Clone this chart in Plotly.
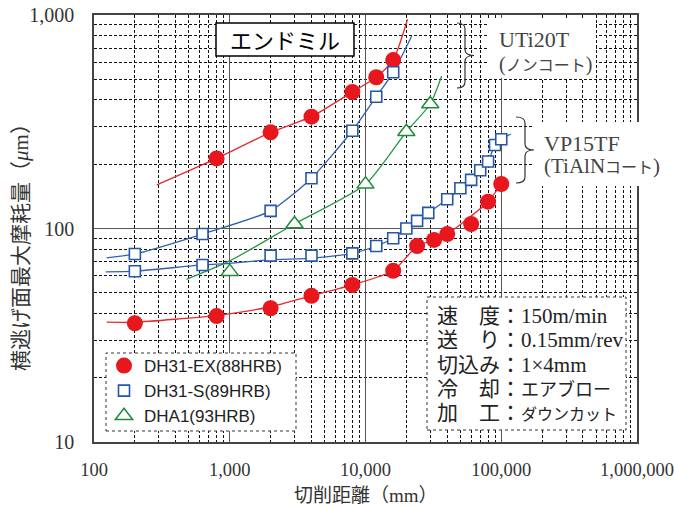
import plotly.graph_objects as go

# ---------------- data ----------------
x_ticks = [100, 1000, 10000, 100000, 1000000]
x_tick_labels = ["100", "1,000", "10,000", "100,000", "1,000,000"]
y_ticks = [10, 100, 1000]
y_tick_labels = ["10", "100", "1,000"]

series_names = ["DH31-EX(88HRB)", "DH31-S(89HRB)", "DHA1(93HRB)"]

# UTi20T (non-coated)
ex_u_x = [800, 2000, 4000, 8000, 12000, 16000]
ex_u_y = [213, 282, 334, 436, 511, 615]
s_u_x = [200, 630, 2000, 4000, 8000, 12000, 16000]
s_u_y = [76, 94.2, 121, 172, 287, 414, 539]
a1_u_x = [3000, 10000, 20000, 30000]
a1_u_y = [105, 161, 284, 383]

# VP15TF (TiAlN coated)
ex_v_x = [200, 800, 2000, 4000, 8000, 16000, 24000, 32000, 40000, 60000, 80000, 100000]
ex_v_y = [36, 38.9, 42.3, 48.4, 54.4, 63.4, 82.8, 88.4, 94.2, 105, 133.5, 161.6]
s_v_x = [200, 630, 2000, 4000, 8000, 12000, 16000, 20000, 24000, 29000,
         40000, 50000, 60000, 70000, 80000, 90000, 100000]
s_v_y = [63.1, 67.5, 74.6, 74.6, 76.5, 82.8, 90, 100, 108.6, 118.3,
         137, 154.3, 168.9, 187.4, 206, 246, 262]
a1_v_x = [1000]
a1_v_y = [62.8]

# trend curves
t_ex_u_x = [290, 800, 2000, 4000, 8000, 12000, 16000, 20400]
t_ex_u_y = [160, 213, 282, 334, 436, 511, 615, 955]
t_s_u_x = [124, 200, 630, 2000, 4000, 8000, 12000, 16000, 21900]
t_s_u_y = [72.9, 76, 94.2, 121, 172, 287, 414, 539, 798]
t_a1_u_x = [480, 1000, 3000, 10000, 20000, 30000, 36400]
t_a1_u_y = [57.8, 70.5, 105, 161, 284, 383, 518]
t_ex_v_x = [124, 200, 800, 2000, 4000, 8000, 16000, 24000, 32000, 40000, 80000, 100000]
t_ex_v_y = [36.4, 36.4, 39.2, 43, 48.4, 54.4, 63.4, 82.8, 88.4, 94.2, 133.5, 161.6]
t_s_v_x = [122, 200, 630, 1000, 2000, 4000, 8000, 12000, 16000, 20000, 24000, 29000,
           40000, 50000, 60000, 70000, 80000, 90000, 100000, 118000]
t_s_v_y = [62.6, 63.1, 67.5, 68.7, 71.5, 72.5, 76.5, 82.8, 90, 100, 108.6, 118.3,
           137, 154.3, 168.9, 187.4, 206, 246, 262, 277]

conditions = [
    ("速　度", "150m/min", None),
    ("送　り", "0.15mm/rev", None),
    ("切込み", "1×4mm", None),
    ("冷　却", "エアブロー", 18),
    ("加　工", "ダウンカット", 16),
]

# ---------------- styles ----------------
RED = "#e8161d"
RED_L = "#e8282c"
BLUE = "#2656a8"
BLUE_L = "#2e60b2"
GREEN = "#1f8a3a"
GREEN_L = "#2a9646"
SERIF = "Liberation Serif, Noto Sans CJK JP, serif"
SANS = "Liberation Sans, Noto Sans CJK JP, sans-serif"
CJK = "Noto Sans CJK JP, sans-serif"

W, H = 674, 509
L, R, T, B = 94, 37, 15, 67
PW, PH = W - L - R, H - T - B


def px(xp):
    return (xp - L) / PW


def py(yp):
    return (H - B - yp) / PH


fig = go.Figure()

# trend curves
for tx, ty, col in [(t_ex_u_x, t_ex_u_y, RED_L), (t_s_u_x, t_s_u_y, BLUE_L),
                    (t_a1_u_x, t_a1_u_y, GREEN_L), (t_ex_v_x, t_ex_v_y, RED_L),
                    (t_s_v_x, t_s_v_y, BLUE_L)]:
    fig.add_trace(go.Scatter(x=tx, y=ty, mode="lines", showlegend=False,
                             line=dict(color=col, width=1.3, shape="spline", smoothing=0.6),
                             hoverinfo="skip"))

red_m = dict(symbol="circle", size=16, color=RED, line=dict(width=0))
blue_m = dict(symbol="square", size=11, color="white", line=dict(color=BLUE, width=1.6))
green_m = dict(symbol="triangle-up", size=15, color="white", line=dict(color=GREEN, width=1.5))

fig.add_trace(go.Scatter(x=ex_u_x, y=ex_u_y, mode="markers", marker=red_m,
                         name=series_names[0], legendgroup="ex"))
fig.add_trace(go.Scatter(x=s_u_x, y=s_u_y, mode="markers", marker=blue_m,
                         name=series_names[1], legendgroup="s"))
fig.add_trace(go.Scatter(x=a1_u_x, y=a1_u_y, mode="markers", marker=green_m,
                         name=series_names[2], legendgroup="a1"))
fig.add_trace(go.Scatter(x=ex_v_x, y=ex_v_y, mode="markers", marker=red_m,
                         name=series_names[0], legendgroup="ex", showlegend=False))
fig.add_trace(go.Scatter(x=s_v_x, y=s_v_y, mode="markers", marker=blue_m,
                         name=series_names[1], legendgroup="s", showlegend=False))
fig.add_trace(go.Scatter(x=a1_v_x, y=a1_v_y, mode="markers", marker=green_m,
                         name=series_names[2], legendgroup="a1", showlegend=False))

minor_x = [m * 10 ** k for k in range(2, 6) for m in range(2, 10)]
minor_y = [m * 10 ** k for k in range(1, 3) for m in range(2, 10)]

axis_common = dict(
    type="log", showgrid=True, gridcolor="#555", gridwidth=1,
    showline=True, mirror=True, linecolor="#444", linewidth=1.5,
    ticks="", zeroline=False, automargin=False,
)
fig.update_xaxes(range=[2, 6], tickvals=x_ticks, ticktext=x_tick_labels,
                 ticklabelstandoff=10,
                 tickfont=dict(family=SERIF, size=18.5, color="#333"),
                 minor=dict(tickvals=minor_x, showgrid=True, gridcolor="#111",
                            griddash="3px,2px", gridwidth=1, ticks=""),
                 **axis_common)
fig.update_yaxes(range=[1, 3], tickvals=y_ticks, ticktext=y_tick_labels,
                 ticklabelstandoff=14,
                 tickfont=dict(family=SERIF, size=20, color="#333"),
                 minor=dict(tickvals=minor_y, showgrid=True, gridcolor="#111",
                            griddash="3px,2px", gridwidth=1, ticks=""),
                 **axis_common)

shapes = []
# title box
shapes.append(dict(type="rect", xref="paper", yref="paper", layer="above",
                   x0=px(216), x1=px(354), y0=py(56), y1=py(23),
                   line=dict(color="black", width=1.5), fillcolor="white"))
# legend box
shapes.append(dict(type="rect", xref="paper", yref="paper", layer="above",
                   x0=px(106), x1=px(296), y0=py(431), y1=py(353),
                   line=dict(color="#333", width=1, dash="dot"), fillcolor="white"))
# conditions box
shapes.append(dict(type="rect", xref="paper", yref="paper", layer="above",
                   x0=px(427), x1=px(626), y0=py(430), y1=py(297),
                   line=dict(color="#333", width=1, dash="dot"), fillcolor="white"))
# white backgrounds for tool labels
shapes.append(dict(type="rect", xref="paper", yref="paper", layer="above",
                   x0=px(488), x1=px(596), y0=py(78), y1=py(18),
                   line=dict(width=0), fillcolor="white"))
shapes.append(dict(type="rect", xref="paper", yref="paper", layer="above",
                   x0=px(532), x1=px(668), y0=py(186), y1=py(122),
                   line=dict(width=0), fillcolor="white"))


def brace(xl, xs, xt, yt, yb):
    ym = (yt + yb) / 2
    c = 6
    pts = (f"M {px(xl)},{py(yt)} Q {px(xs)},{py(yt)} {px(xs)},{py(yt + c)} "
           f"L {px(xs)},{py(ym - c)} Q {px(xs)},{py(ym)} {px(xt)},{py(ym)} "
           f"Q {px(xs)},{py(ym)} {px(xs)},{py(ym + c)} "
           f"L {px(xs)},{py(yb - c)} Q {px(xs)},{py(yb)} {px(xl)},{py(yb)}")
    return dict(type="path", xref="paper", yref="paper", layer="above", path=pts,
                line=dict(color="#333", width=1.2))


shapes.append(brace(457, 465, 474, 23, 88))
shapes.append(brace(516, 525, 534, 117, 183))

annotations = []
annotations.append(dict(xref="paper", yref="paper", x=px(285), y=py(39.5),
                        text="エンドミル", showarrow=False,
                        font=dict(family=CJK, size=22, color="black"),
                        xanchor="center", yanchor="middle"))
annotations.append(dict(xref="paper", yref="paper", x=px(497), y=py(40),
                        text="UTi20T", showarrow=False, xanchor="left", yanchor="middle",
                        font=dict(family=SERIF, size=22, color="#444")))
annotations.append(dict(xref="paper", yref="paper", x=px(497), y=py(64),
                        text="(<span style='font-size:16px'>ノンコート</span>)",
                        showarrow=False, xanchor="left", yanchor="middle",
                        font=dict(family=SERIF, size=20, color="#444")))
annotations.append(dict(xref="paper", yref="paper", x=px(542), y=py(143),
                        text="VP15TF", showarrow=False, xanchor="left", yanchor="middle",
                        font=dict(family=SERIF, size=22, color="#444")))
annotations.append(dict(xref="paper", yref="paper", x=px(542), y=py(166),
                        text="(TiAlN<span style='font-size:16px'>コート</span>)",
                        showarrow=False, xanchor="left", yanchor="middle",
                        font=dict(family=SERIF, size=21, color="#444")))

cond_y = [316, 340, 365, 389, 413]
for (lab, val, vsize), yy in zip(conditions, cond_y):
    v = val if vsize is None else f"<span style='font-size:{vsize}px'>{val}</span>"
    annotations.append(dict(xref="paper", yref="paper", x=px(435), y=py(yy),
                            text=f"{lab}：{v}", showarrow=False,
                            xanchor="left", yanchor="middle",
                            font=dict(family=SERIF, size=21, color="#222")))

annotations.append(dict(xref="paper", yref="paper", x=0.5, y=py(496),
                        text="切削距離（mm）", showarrow=False,
                        xanchor="center", yanchor="middle",
                        font=dict(family=SERIF, size=19, color="#333")))
annotations.append(dict(xref="paper", yref="paper", x=px(21), y=py(242),
                        text="横逃げ面最大摩耗量（<i>μ</i>m）", showarrow=False,
                        textangle=-90, xanchor="center", yanchor="middle",
                        font=dict(family=SERIF, size=21, color="#333")))

fig.update_layout(
    width=W, height=H,
    margin=dict(l=L, r=R, t=T, b=B, autoexpand=False),
    paper_bgcolor="white", plot_bgcolor="white",
    shapes=shapes, annotations=annotations,
    legend=dict(x=px(104), y=py(348), xanchor="left", yanchor="top",
                bgcolor="rgba(0,0,0,0)", borderwidth=0,
                font=dict(family=SANS, size=17, color="#222"),
                itemsizing="trace", tracegroupgap=0),
    showlegend=True,
)

fig.write_html("out.html")
